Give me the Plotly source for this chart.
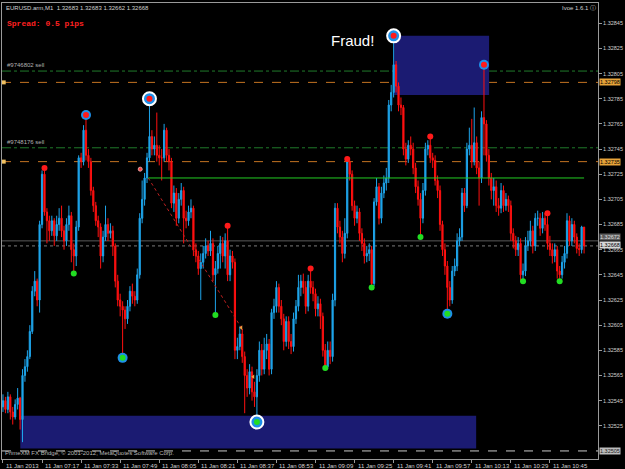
import plotly.graph_objects as go

# ---------------- data (EURUSD.arm, M1, 11 Jan 2013 07:01 - 10:59) ----------------
first_open = 1.32540
close = [
 1.32545,1.32538,1.32548,1.32536,1.32532,1.32542,1.32547,1.32530,1.32565,1.32572,
 1.32580,1.32600,1.32632,1.32640,1.32625,1.32685,1.32725,1.32695,1.32688,1.32680,
 1.32688,1.32676,1.32685,1.32690,1.32680,1.32672,1.32685,1.32692,1.32665,1.32660,
 1.32683,1.32738,1.32735,1.32760,1.32740,1.32735,1.32712,1.32700,1.32688,1.32683,
 1.32660,1.32675,1.32685,1.32678,1.32680,1.32668,1.32640,1.32625,1.32620,1.32617,
 1.32610,1.32620,1.32632,1.32628,1.32625,1.32645,1.32690,1.32705,1.32722,1.32738,
 1.32755,1.32745,1.32748,1.32740,1.32738,1.32738,1.32760,1.32740,1.32735,1.32702,
 1.32710,1.32690,1.32705,1.32712,1.32690,1.32688,1.32695,1.32698,1.32665,1.32660,
 1.32650,1.32655,1.32662,1.32668,1.32664,1.32670,1.32645,1.32650,1.32662,1.32670,
 1.32660,1.32672,1.32645,1.32660,1.32655,1.32585,1.32588,1.32598,1.32580,1.32565,
 1.32555,1.32568,1.32552,1.32548,1.32565,1.32585,1.32570,1.32585,1.32590,1.32570,
 1.32615,1.32620,1.32635,1.32620,1.32610,1.32592,1.32608,1.32592,1.32588,1.32610,
 1.32620,1.32635,1.32640,1.32635,1.32620,1.32640,1.32635,1.32630,1.32618,1.32622,
 1.32612,1.32585,1.32572,1.32585,1.32580,1.32625,1.32698,1.32683,1.32675,1.32662,
 1.32678,1.32735,1.32725,1.32700,1.32690,1.32695,1.32678,1.32670,1.32660,1.32662,
 1.32665,1.32638,1.32703,1.32715,1.32690,1.32710,1.32718,1.32722,1.32780,1.32790,
 1.32812,1.32795,1.32780,1.32778,1.32745,1.32737,1.32748,1.32745,1.32730,1.32715,
 1.32705,1.32690,1.32712,1.32745,1.32748,1.32738,1.32736,1.32720,1.32712,1.32685,
 1.32665,1.32652,1.32635,1.32625,1.32648,1.32652,1.32672,1.32675,1.32710,1.32700,
 1.32745,1.32748,1.32735,1.32750,1.32730,1.32722,1.32770,1.32765,1.32740,1.32722,
 1.32712,1.32715,1.32700,1.32698,1.32712,1.32700,1.32705,1.32700,1.32678,1.32672,
 1.32665,1.32670,1.32645,1.32648,1.32668,1.32672,1.32680,1.32668,1.32690,1.32690,
 1.32682,1.32690,1.32685,1.32670,1.32665,1.32660,1.32665,1.32648,1.32645,1.32655,
 1.32662,1.32688,1.32672,1.32685,1.32675,1.32666,1.32665,1.32683,1.32668]
high = [
 1.32550,1.32548,1.32552,1.32550,1.32540,1.32546,1.32555,1.32548,1.32570,1.32578,
 1.32585,1.32605,1.32636,1.32648,1.32642,1.32688,1.32728,1.32730,1.32698,1.32692,
 1.32692,1.32690,1.32692,1.32698,1.32700,1.32684,1.32690,1.32700,1.32695,1.32670,
 1.32688,1.32740,1.32742,1.32764,1.32772,1.32745,1.32738,1.32715,1.32703,1.32692,
 1.32686,1.32680,1.32700,1.32690,1.32686,1.32684,1.32670,1.32645,1.32630,1.32624,
 1.32620,1.32625,1.32636,1.32638,1.32632,1.32650,1.32694,1.32720,1.32726,1.32742,
 1.32782,1.32760,1.32755,1.32774,1.32748,1.32745,1.32765,1.32762,1.32745,1.32738,
 1.32716,1.32714,1.32710,1.32718,1.32715,1.32696,1.32700,1.32705,1.32700,1.32670,
 1.32664,1.32662,1.32668,1.32674,1.32672,1.32680,1.32674,1.32656,1.32668,1.32676,
 1.32675,1.32678,1.32684,1.32665,1.32664,1.32658,1.32595,1.32604,1.32602,1.32584,
 1.32570,1.32574,1.32572,1.32560,1.32570,1.32592,1.32590,1.32595,1.32598,1.32594,
 1.32618,1.32626,1.32640,1.32638,1.32625,1.32614,1.32612,1.32612,1.32598,1.32615,
 1.32625,1.32645,1.32645,1.32646,1.32640,1.32645,1.32650,1.32640,1.32634,1.32628,
 1.32626,1.32615,1.32590,1.32592,1.32592,1.32630,1.32702,1.32702,1.32688,1.32680,
 1.32690,1.32737,1.32736,1.32728,1.32704,1.32700,1.32698,1.32682,1.32674,1.32668,
 1.32670,1.32668,1.32706,1.32722,1.32718,1.32715,1.32724,1.32730,1.32784,1.32796,
 1.32835,1.32815,1.32798,1.32786,1.32780,1.32750,1.32752,1.32755,1.32750,1.32734,
 1.32720,1.32710,1.32718,1.32750,1.32752,1.32755,1.32742,1.32740,1.32724,1.32716,
 1.32688,1.32670,1.32656,1.32640,1.32652,1.32658,1.32678,1.32682,1.32714,1.32714,
 1.32750,1.32762,1.32769,1.32778,1.32755,1.32735,1.32775,1.32812,1.32768,1.32745,
 1.32726,1.32722,1.32720,1.32706,1.32718,1.32716,1.32710,1.32708,1.32704,1.32682,
 1.32676,1.32675,1.32674,1.32654,1.32675,1.32680,1.32688,1.32684,1.32694,1.32696,
 1.32694,1.32695,1.32694,1.32694,1.32676,1.32670,1.32670,1.32668,1.32652,1.32660,
 1.32668,1.32694,1.32692,1.32690,1.32688,1.32678,1.32670,1.32684,1.32683]
low = [
 1.32536,1.32535,1.32535,1.32530,1.32526,1.32530,1.32538,1.32522,1.32512,1.32560,
 1.32568,1.32578,1.32598,1.32628,1.32620,1.32615,1.32682,1.32692,1.32670,1.32672,
 1.32676,1.32668,1.32672,1.32680,1.32675,1.32665,1.32668,1.32680,1.32655,1.32646,
 1.32652,1.32680,1.32730,1.32732,1.32736,1.32730,1.32708,1.32695,1.32684,1.32675,
 1.32650,1.32655,1.32672,1.32672,1.32674,1.32660,1.32635,1.32620,1.32612,1.32579,
 1.32602,1.32606,1.32616,1.32622,1.32620,1.32622,1.32642,1.32686,1.32700,1.32718,
 1.32735,1.32740,1.32740,1.32735,1.32732,1.32720,1.32735,1.32735,1.32728,1.32698,
 1.32695,1.32684,1.32686,1.32700,1.32670,1.32682,1.32684,1.32690,1.32660,1.32655,
 1.32645,1.32625,1.32650,1.32658,1.32660,1.32660,1.32640,1.32613,1.32646,1.32650,
 1.32655,1.32650,1.32640,1.32640,1.32650,1.32578,1.32578,1.32585,1.32575,1.32535,
 1.32548,1.32550,1.32545,1.32540,1.32528,1.32560,1.32565,1.32566,1.32578,1.32565,
 1.32566,1.32610,1.32615,1.32615,1.32605,1.32585,1.32588,1.32586,1.32582,1.32584,
 1.32606,1.32616,1.32628,1.32630,1.32614,1.32616,1.32630,1.32624,1.32612,1.32612,
 1.32602,1.32580,1.32571,1.32570,1.32574,1.32576,1.32620,1.32678,1.32670,1.32655,
 1.32658,1.32674,1.32720,1.32696,1.32684,1.32686,1.32672,1.32664,1.32654,1.32655,
 1.32656,1.32635,1.32636,1.32700,1.32685,1.32686,1.32706,1.32712,1.32718,1.32775,
 1.32786,1.32790,1.32775,1.32772,1.32740,1.32732,1.32734,1.32740,1.32725,1.32710,
 1.32700,1.32675,1.32686,1.32708,1.32740,1.32734,1.32730,1.32716,1.32706,1.32680,
 1.32660,1.32645,1.32614,1.32620,1.32622,1.32644,1.32648,1.32668,1.32672,1.32695,
 1.32698,1.32740,1.32730,1.32732,1.32725,1.32700,1.32718,1.32740,1.32735,1.32716,
 1.32705,1.32700,1.32695,1.32692,1.32694,1.32695,1.32696,1.32695,1.32672,1.32666,
 1.32660,1.32660,1.32640,1.32640,1.32644,1.32664,1.32668,1.32662,1.32664,1.32684,
 1.32676,1.32678,1.32680,1.32665,1.32660,1.32654,1.32655,1.32642,1.32640,1.32642,
 1.32650,1.32658,1.32668,1.32668,1.32670,1.32662,1.32660,1.32662,1.32662]

time_labels = ["11 Jan 2013", "11 Jan 07:17", "11 Jan 07:33", "11 Jan 07:49", "11 Jan 08:05",
               "11 Jan 08:21", "11 Jan 08:37", "11 Jan 08:53", "11 Jan 09:09", "11 Jan 09:25",
               "11 Jan 09:41", "11 Jan 09:57", "11 Jan 10:13", "11 Jan 10:29", "11 Jan 10:45"]
time_label_bars = [0, 16, 32, 48, 64, 80, 96, 112, 128, 144, 160, 176, 192, 208, 224]
price_ticks = [1.32525, 1.32545, 1.32565, 1.32585, 1.32605, 1.32625, 1.32645, 1.32665, 1.32685,
               1.32705, 1.32725, 1.32745, 1.32765, 1.32785, 1.32805, 1.32825, 1.32845]

# zigzag / signal markers (bar index, price)
ring_tops_bar = [60, 160];           ring_tops_px = [1.32785, 1.32835]
blue_tops_bar = [34, 197];           blue_tops_px = [1.32772, 1.32812]
ring_bots_bar = [104];               ring_bots_px = [1.32528]
blue_bots_bar = [49, 182];           blue_bots_px = [1.32579, 1.32614]
red_dots_bar = [17, 92, 126, 141, 175, 223]
red_dots_px = [1.32730, 1.32684, 1.32650, 1.32737, 1.32755, 1.32694]
green_dots_bar = [29, 87, 132, 151, 171, 213, 228]
green_dots_px = [1.32646, 1.32613, 1.32571, 1.32635, 1.32675, 1.32640, 1.32640]

# order / level lines
sell_levels = [1.32807, 1.32746]
sell_names = ["#9746802 sell", "#9748176 sell"]
stop_levels = [1.32798, 1.32735]
open_trade_level = 1.32722
open_trade_from = 59.5
ask_level = 1.32672
bid_level = 1.32668
low_level = 1.32505

# rectangles (bar from, bar to, price low, price high)
fraud_box = (160.2, 199.1, 1.32788, 1.32835)
bottom_box = (7.1, 193.8, 1.32507, 1.32533)

# closed trade arrow (bar, price)
trade_from = (59.5, 1.32722)
trade_to = (97.6, 1.32603)
trade_open_mark = (56.2, 1.32729)
trade_mark2 = (102.5, 1.32564)

# ---------------- figure ----------------
n = len(close)
bars = list(range(n))
opens = [first_open] + close[:-1]

UP = "#1ea4ea"
DN = "#ff1010"
fig = go.Figure()
fig.add_trace(go.Candlestick(
    x=bars, open=opens, high=high, low=low, close=close,
    increasing=dict(line=dict(color=UP, width=1), fillcolor=UP),
    decreasing=dict(line=dict(color=DN, width=1), fillcolor=DN),
    whiskerwidth=0, hoverinfo="skip", showlegend=False))

# trade dotted line
fig.add_trace(go.Scatter(x=[trade_from[0], trade_to[0]], y=[trade_from[1], trade_to[1]],
                         mode="lines", line=dict(color="#c02020", width=1, dash="dot"),
                         hoverinfo="skip", showlegend=False))
fig.add_trace(go.Scatter(x=[trade_open_mark[0]], y=[trade_open_mark[1]], mode="markers",
                         marker=dict(size=4, color="#ff4040", line=dict(color="#e0a0a0", width=1)),
                         hoverinfo="skip", showlegend=False))
fig.add_trace(go.Scatter(x=[trade_to[0], trade_mark2[0]], y=[trade_to[1], trade_mark2[1]], mode="markers",
                         marker=dict(size=4, symbol="triangle-left", color="#f0a040"),
                         hoverinfo="skip", showlegend=False))

# big circles
fig.add_trace(go.Scatter(x=ring_tops_bar + ring_bots_bar, y=ring_tops_px + ring_bots_px, mode="markers",
                         marker=dict(size=13, color="#1e8fe8", line=dict(color="white", width=2)),
                         hoverinfo="skip", showlegend=False))
fig.add_trace(go.Scatter(x=blue_tops_bar + blue_bots_bar, y=blue_tops_px + blue_bots_px, mode="markers",
                         marker=dict(size=10, color="#1e8fe8"),
                         hoverinfo="skip", showlegend=False))
fig.add_trace(go.Scatter(x=ring_tops_bar + blue_tops_bar + red_dots_bar,
                         y=ring_tops_px + blue_tops_px + red_dots_px, mode="markers",
                         marker=dict(size=6, color="#ff1a1a"), hoverinfo="skip", showlegend=False))
fig.add_trace(go.Scatter(x=ring_bots_bar + blue_bots_bar + green_dots_bar,
                         y=ring_bots_px + blue_bots_px + green_dots_px, mode="markers",
                         marker=dict(size=6, color="#22dd22"), hoverinfo="skip", showlegend=False))

shapes = []
# rectangles
for b in (fraud_box, bottom_box):
    shapes.append(dict(type="rect", xref="x", yref="y", x0=b[0], x1=b[1], y0=b[2], y1=b[3],
                       fillcolor="#1b1b72", line=dict(width=0), layer="below"))
# level lines
for lv in sell_levels:
    shapes.append(dict(type="line", xref="paper", yref="y", x0=0, x1=1, y0=lv, y1=lv,
                       line=dict(color="#1f7a2a", width=1, dash="dashdot"), layer="below"))
for lv in stop_levels:
    shapes.append(dict(type="line", xref="paper", yref="y", x0=0, x1=1, y0=lv, y1=lv,
                       line=dict(color="#c47422", width=1, dash="dash"), layer="below"))
shapes.append(dict(type="line", xref="x", yref="y", x0=open_trade_from, x1=n - 1,
                   y0=open_trade_level, y1=open_trade_level, line=dict(color="#22cc22", width=1)))
shapes.append(dict(type="line", xref="paper", yref="y", x0=0, x1=1, y0=ask_level, y1=ask_level,
                   line=dict(color="#5a5a5a", width=1), layer="below"))
shapes.append(dict(type="line", xref="paper", yref="y", x0=0, x1=1, y0=bid_level, y1=bid_level,
                   line=dict(color="#7a7a7a", width=1, dash="dot"), layer="below"))
shapes.append(dict(type="line", xref="paper", yref="y", x0=0, x1=1, y0=low_level, y1=low_level,
                   line=dict(color="#c8c8c8", width=1, dash="dash")))
fig.update_layout(shapes=shapes)

# small orange squares at left end of stop lines
fig.add_trace(go.Scatter(x=[0.3, 0.3], y=stop_levels, mode="markers", cliponaxis=False,
                         marker=dict(size=4, symbol="square", color="#f0c060"),
                         hoverinfo="skip", showlegend=False))

ann = []
LBL = "Liberation Sans"
# time axis labels (left-aligned after each tick)
for b, t in zip(time_label_bars, time_labels):
    ann.append(dict(x=b, y=0, xref="x", yref="paper", text=t, showarrow=False,
                    xanchor="left", yanchor="top", xshift=1, yshift=-2,
                    font=dict(family=LBL, size=6, color="#d0d0d0")))
# highlighted price labels on the right
for lv, bg, fc, sh in [(stop_levels[0], "#e8a43a", "#000000", 0), (stop_levels[1], "#e8a43a", "#000000", 0),
                       (ask_level, "#5c5c5c", "#e0e0e0", 4), (bid_level, "#d8d8d8", "#000000", 1),
                       (low_level, "#bcbcbc", "#202020", 0)]:
    ann.append(dict(x=1, y=lv, xref="paper", yref="y", text=f"{lv:.5f}", showarrow=False,
                    xanchor="left", yanchor="middle", xshift=1, yshift=sh, bgcolor=bg, borderpad=0,
                    font=dict(family=LBL, size=5.5, color=fc)))
# order labels
for lv, nm in zip(sell_levels, sell_names):
    ann.append(dict(x=0, y=lv, xref="paper", yref="y", text=nm, showarrow=False,
                    xanchor="left", yanchor="bottom", xshift=3, yshift=1,
                    font=dict(family=LBL, size=6, color="#b0b0b0")))
# header / footer texts
ann.append(dict(x=0.004, y=1.0, xref="paper", yref="paper",
                text="EURUSD.arm,M1  1.32683 1.32683 1.32662 1.32668", showarrow=False,
                xanchor="left", yanchor="top", yshift=0, font=dict(family=LBL, size=6, color="#d0d0d0")))
ann.append(dict(x=0.005, y=0.956, xref="paper", yref="paper", text="<b>Spread: 0.5 pips</b>",
                showarrow=False, xanchor="left", yanchor="middle",
                font=dict(family="Liberation Mono", size=8, color="#ff2020")))
ann.append(dict(x=1.0, y=1.0, xref="paper", yref="paper", text="Ivoe 1.6.1 ⓘ", showarrow=False,
                xanchor="right", yanchor="top", font=dict(family=LBL, size=6, color="#d0d0d0")))
ann.append(dict(x=0.548, y=0.918, xref="paper", yref="paper", text="Fraud!", showarrow=False,
                xanchor="left", yanchor="middle", font=dict(family=LBL, size=15, color="white")))
ann.append(dict(x=0.0, y=0.0, xref="paper", yref="paper",
                text="PrimeXM FX Bridge, © 2001-2012, MetaQuotes Software Corp.", showarrow=False,
                xanchor="left", yanchor="bottom", xshift=1, yshift=1,
                font=dict(family=LBL, size=6, color="#b8b8b8")))

fig.update_layout(
    width=625, height=469,
    margin=dict(l=2, r=27, t=3, b=10),
    paper_bgcolor="#000000", plot_bgcolor="#000000",
    annotations=ann, showlegend=False,
    xaxis=dict(range=[-0.4, 243.7], rangeslider=dict(visible=False), showgrid=False, zeroline=False,
               tickvals=time_label_bars, ticks="outside", ticklen=3, tickcolor="#9a9a9a",
               showticklabels=False, showline=True, linecolor="#9a9a9a", mirror=True, fixedrange=True),
    yaxis=dict(range=[1.324986, 1.328611], side="right", showgrid=False, zeroline=False,
               tickvals=price_ticks, ticktext=[f"{p:.5f}" for p in price_ticks],
               ticks="outside", ticklen=3, tickcolor="#9a9a9a",
               tickfont=dict(family=LBL, size=5.5, color="#d0d0d0"),
               showline=True, linecolor="#9a9a9a", mirror=True, fixedrange=True),
)
fig.write_html("out.html")
